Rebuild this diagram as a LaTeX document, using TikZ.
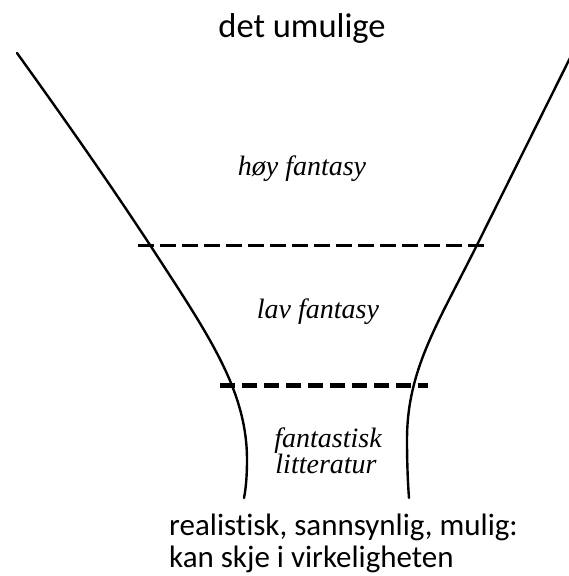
\documentclass[tikz,border=0pt]{standalone}
\usepackage{fontspec}
\setmainfont{Carlito}[Ligatures=NoCommon]
\newfontfamily\timesit{Liberation Serif}
\tikzset{
  funnel/.style={line width=2.4pt, line cap=round},
  divider/.style={line width=3pt, dash pattern=on 16pt off 6pt},
  divthick/.style={line width=5pt, dash pattern=on 15pt off 7pt},
  region/.style={font={\timesit\itshape\fontsize{28}{26}\selectfont}, align=center, inner sep=0pt},
  sanslabel/.style={align=left, inner sep=0pt}
}
\begin{document}
\begin{tikzpicture}[x=1pt,y=-1pt]
\useasboundingbox (0,0) rectangle (569,576);
% funnel sides
\draw[funnel] (17,53) .. controls (63,117) and (108,181) .. (150,245)
  .. controls (208.5,335) and (247,390) .. (247,460)
  .. controls (247,475) and (246,488) .. (244,498);
\draw[funnel] (571,56) -- (477,245)
  .. controls (437,325) and (407,370) .. (407,440)
  .. controls (407,465) and (408,485) .. (409,498);
% dividers
\coordinate (d1a) at (138,245);
\coordinate (d1b) at (488,245);
\coordinate (d2a) at (220,385);
\coordinate (d2b) at (428,385);
\draw[divider] (d1a) -- (d1b);
\draw[divthick] (d2a) -- (d2b);
% texts
\node[inner sep=0pt, anchor=base, font={\fontsize{34.5}{40}\selectfont}] (title) at (302,37) {det umulige};
\node[region, anchor=base] (hoy) at (302,175) {høy fantasy};
\node[region, anchor=base] (lav) at (318,318) {lav fantasy};
\node[region, anchor=base] (fant) at (328,447) {fantastisk};
\node[region, anchor=base] (litt) at (326,473) {litteratur};
\node[sanslabel, anchor=base west, font={\fontsize{31}{32}\selectfont}] (real) at (169,535) {realistisk, sannsynlig, mulig:};
\node[sanslabel, anchor=base west, font={\fontsize{31}{32}\selectfont}] (kan) at (169,567) {kan skje i virkeligheten};
\end{tikzpicture}
\end{document}
